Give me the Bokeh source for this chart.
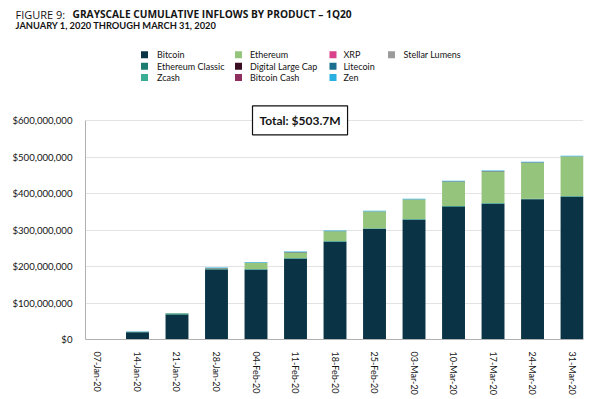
from bokeh.plotting import figure
from bokeh.layouts import column
from bokeh.models import (ColumnDataSource, Range1d, FixedTicker, NumeralTickFormatter, Label)
from bokeh.core.properties import value
from bokeh.embed import file_html
from bokeh.resources import INLINE

dates = ["07-Jan-20", "14-Jan-20", "21-Jan-20", "28-Jan-20", "04-Feb-20", "11-Feb-20",
         "18-Feb-20", "25-Feb-20", "03-Mar-20", "10-Mar-20", "17-Mar-20", "24-Mar-20", "31-Mar-20"]

# values in USD millions
bitcoin          = [0, 20.0, 68.0, 192.0, 191.0, 221.0, 268.0, 303.0, 328.0, 364.0, 372.0, 384.0, 391.0]
ethereum_classic = [0, 0.3, 3.5, 1.0, 1.5, 1.5, 1.5, 1.5, 1.5, 1.5, 1.5, 1.5, 1.5]
zcash            = [0, 0.0, 0.3, 0.3, 0.5, 0.5, 0.5, 0.5, 0.5, 0.5, 0.5, 0.5, 0.5]
ethereum         = [0, 0.0, 0.5, 1.0, 17.0, 15.5, 26.5, 45.5, 53.5, 66.5, 86.5, 98.5, 108.2]
digital_large_cap= [0, 0.0, 0.0, 1.0, 0.3, 0.3, 0.3, 0.3, 0.3, 0.3, 0.3, 0.3, 0.3]
bitcoin_cash     = [0, 0.05, 0.05, 0.1, 0.1, 0.1, 0.1, 0.1, 0.1, 0.1, 0.1, 0.1, 0.1]
xrp              = [0, 0.0, 0.0, 0.05, 0.05, 0.05, 0.05, 0.05, 0.05, 0.05, 0.05, 0.05, 0.05]
litecoin         = [0, 0.8, 0.2, 0.5, 0.5, 0.5, 0.5, 0.5, 0.5, 0.5, 0.5, 0.5, 0.5]
zen              = [0, 1.0, 0.2, 1.5, 1.5, 1.5, 1.5, 1.5, 1.5, 1.5, 1.5, 1.5, 1.5]
stellar_lumens   = [0, 0.0, 0.0, 0.05, 0.05, 0.05, 0.05, 0.05, 0.05, 0.05, 0.05, 0.05, 0.05]

series_names = ["Bitcoin", "Ethereum Classic", "Zcash", "Ethereum", "Digital Large Cap",
                "Bitcoin Cash", "XRP", "Litecoin", "Zen", "Stellar Lumens"]
series_vals = [bitcoin, ethereum_classic, zcash, ethereum, digital_large_cap,
               bitcoin_cash, xrp, litecoin, zen, stellar_lumens]
colors = ["#0a3445", "#1b7d6f", "#3aae94", "#95c47c", "#3a0d22",
          "#8e2f5f", "#d9428a", "#1b6f8e", "#28b0e0", "#9b9b9b"]
title_prefix = "FIGURE 9: "
title_main = "GRAYSCALE CUMULATIVE INFLOWS BY PRODUCT \u2013 1Q20"
subtitle = "JANUARY 1, 2020 THROUGH MARCH 31, 2020"
total_text = "Total: $503.7M"

FONT = "Lato"
TFONT = "Open Sans"
TXT = "#141414"

# ---------------- header (titles + legend) ----------------
HW, HH = 600, 92
hdr = figure(width=HW, height=HH, output_backend="svg", toolbar_location=None,
             x_range=Range1d(0, HW), y_range=Range1d(HH, 0),
             min_border=0, min_border_left=0, min_border_right=0,
             min_border_top=0, min_border_bottom=0)
hdr.axis.visible = False
hdr.grid.visible = False
hdr.outline_line_color = None
hdr.frame_align = False

hdr.text(x=[15], y=[13.5], text=[title_prefix], text_font=value(TFONT), text_font_size="11px",
         text_baseline="middle", text_color=TXT)
hdr.text(x=[72], y=[13.5], text=[title_main], text_font=value(TFONT), text_font_size="10.2px",
         text_font_style="bold", text_baseline="middle", text_color=TXT)
hdr.text(x=[15], y=[25], text=[subtitle], text_font=value(FONT), text_font_size="9.3px",
         text_font_style="bold", text_baseline="middle", text_color=TXT)

col_sq = [144, 238, 332.5, 391]
col_tx = [156.5, 249.5, 343, 403]
row_y = [54.3, 65.7, 77]
lx, ly, ltx, lc = [], [], [], []
for i, n in enumerate(series_names):
    c, r = divmod(i, 3)
    lx.append(col_sq[c]); ly.append(row_y[r]); ltx.append(col_tx[c]); lc.append(colors[i])
hdr.rect(x=lx, y=ly, width=7, height=7, fill_color=lc, line_color=None)
hdr.text(x=ltx, y=ly, text=series_names, text_font=value(FONT), text_font_size="9px",
         text_baseline="middle", text_color=TXT)

# ---------------- main chart ----------------
data = {"x": list(range(len(dates)))}
keys = []
for i, v in enumerate(series_vals):
    k = "s%d" % i
    keys.append(k)
    data[k] = [val * 1e6 for val in v]
source = ColumnDataSource(data)

MH = 399 - HH
p = figure(width=600, height=MH, output_backend="svg", toolbar_location=None,
           x_range=Range1d(-0.316, 12.29), y_range=Range1d(0, 654.9e6),
           min_border_left=85, min_border_right=17, min_border_top=8, min_border_bottom=60)
p.frame_align = False

p.vbar_stack(keys, x="x", width=0.58, source=source, color=colors, line_color=None)

p.outline_line_color = None
p.xgrid.grid_line_color = None
p.ygrid.grid_line_color = "#e3e3e3"
p.yaxis.ticker = FixedTicker(ticks=[i * 100e6 for i in range(7)])
p.yaxis.formatter = NumeralTickFormatter(format="$0,0")
p.yaxis.bounds = (0, 600e6)
p.xaxis.ticker = FixedTicker(ticks=list(range(len(dates))))
p.xaxis.major_label_overrides = {i: d for i, d in enumerate(dates)}
p.xaxis.major_label_orientation = "vertical"
for ax in (p.xaxis, p.yaxis):
    ax.axis_line_color = "#b0b0b0"
    ax.major_tick_line_color = None
    ax.minor_tick_line_color = None
    ax.major_label_text_font = FONT
    ax.major_label_text_color = TXT
p.yaxis.major_label_text_font_size = "9.6px"
p.xaxis.major_label_text_font_size = "9px"
p.yaxis.major_label_standoff = 7
p.xaxis.major_label_standoff = 6

# total box (screen units relative to frame)
frame_bottom_page = 338.7
p.add_layout(Label(x=252 - 85, y=frame_bottom_page - 134, x_units="screen", y_units="screen",
                   text=total_text, text_font=FONT, text_font_size="12px",
                   text_font_style="bold", text_color=TXT,
                   border_line_color="#111111", border_line_width=1.2,
                   background_fill_color="white", padding=7))

layout = column(hdr, p, spacing=0)
open("out.html", "w").write(file_html(layout, INLINE))
